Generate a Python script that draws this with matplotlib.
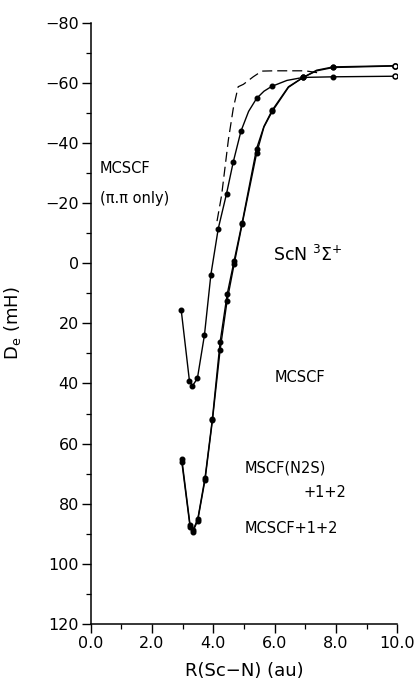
import matplotlib
matplotlib.use("Agg")
import matplotlib.pyplot as plt
from matplotlib.ticker import MultipleLocator, FuncFormatter

# ---- data ----
# MCSCF (pi,pi only) - dashed, no markers
pipi_r = [4.12, 4.27, 4.49, 4.65, 4.81, 4.98, 5.30, 5.58, 6.00, 7.00, 7.50]
pipi_de = [-14.0, -22.6, -41.0, -51.5, -58.7, -59.5, -62.0, -63.9, -64.0, -64.0, -63.2]

# MCSCF (shallow well): computed points (markers)
mcscf_r = [2.95, 3.22, 3.32, 3.48, 3.71, 3.92, 4.16, 4.43, 4.65, 4.90, 5.41, 5.90, 6.93, 7.91, 9.93]
mcscf_de = [15.4, 39.1, 40.8, 38.3, 23.9, 3.8, -11.5, -23.1, -33.7, -43.9, -54.8, -58.8, -61.8, -62.0, -62.2]
# extra points read along the drawn MCSCF curve between markers
mcscf_curve_r = [5.15, 5.65, 6.40]
mcscf_curve_de = [-50.5, -57.2, -60.8]

# MCSCF+1+2
ci_r = [2.97, 3.24, 3.33, 3.49, 3.73, 3.97, 4.22, 4.45, 4.68, 4.94, 5.41, 5.92, 6.93, 7.91, 9.93]
ci_de = [65.0, 87.0, 88.9, 85.2, 71.3, 51.7, 26.3, 10.4, -0.9, -13.5, -38.1, -50.9, -61.8, -65.3, -65.7]
# MSCF(N2S)+1+2
n2s_r = [2.97, 3.24, 3.33, 3.49, 3.73, 3.97, 4.22, 4.45, 4.68, 4.94, 5.41, 5.92, 6.93, 7.91, 9.93]
n2s_de = [66.0, 87.6, 89.3, 85.6, 72.0, 52.3, 28.9, 12.4, 0.2, -13.0, -36.5, -50.5, -61.8, -65.1, -65.6]
# extra points read along the drawn +1+2 curves between markers
ci_curve_r = [5.65, 6.45, 7.37]
ci_curve_de = [-45.5, -58.7, -64.2]

x_ticks = [0.0, 2.0, 4.0, 6.0, 8.0, 10.0]
y_ticks = [-80, -60, -40, -20, 0, 20, 40, 60, 80, 100, 120]


def merged(r, d, er, ed):
    pts = sorted(list(zip(r, d)) + list(zip(er, ed)))
    return [p[0] for p in pts], [p[1] for p in pts]


W, H = 416, 683
fig = plt.figure(figsize=(W / 100, H / 100), dpi=100)
ax = fig.add_axes([90.7 / W, 1 - 624 / H, (397.3 - 90.7) / W, (624 - 22.7) / H])

ax.plot(pipi_r, pipi_de, color="black", lw=0.9, dashes=(8, 4))
series = [
    (mcscf_r, mcscf_de, mcscf_curve_r, mcscf_curve_de),
    (ci_r, ci_de, ci_curve_r, ci_curve_de),
    (n2s_r, n2s_de, ci_curve_r, [v + 0.2 for v in ci_curve_de]),
]
for r, d, er, ed in series:
    lr, ld = merged(r, d, er, ed)
    ax.plot(lr, ld, color="black", lw=1.0)
    ax.plot(r[:-1], d[:-1], ls="none", marker="o", ms=3.3, color="black")
    ax.plot(r[-1:], d[-1:], ls="none", marker="o", ms=3.6, mfc="white", mec="black", mew=1.1)

ax.set_xlim(0, 10)
ax.set_ylim(120, -80)
ax.set_xticks(x_ticks)
ax.set_yticks(y_ticks)
ax.xaxis.set_minor_locator(MultipleLocator(1.0))
ax.yaxis.set_minor_locator(MultipleLocator(10))
ax.xaxis.set_major_formatter(FuncFormatter(lambda v, p: f"{v:.1f}"))
ax.yaxis.set_major_formatter(FuncFormatter(lambda v, p: f"{int(v)}".replace("-", "\u2212")))
for s in ["top", "right"]:
    ax.spines[s].set_visible(False)
for s in ["left", "bottom"]:
    ax.spines[s].set_linewidth(1.1)
ax.tick_params(which="major", direction="out", length=6.5, width=1.0, labelsize=11.5, pad=2)
ax.tick_params(which="minor", direction="out", length=3.5, width=0.9)

ax.set_xlabel("R(Sc\u2212N) (au)", fontsize=13, labelpad=8)
ax.set_ylabel(r"D$_{\rm e}$ (mH)", fontsize=13, labelpad=16)

ax.text(0.30, -31.6, "MCSCF", fontsize=10.5, va="center", ha="left")
ax.text(0.30, -21.6, "(\u03c0.\u03c0 only)", fontsize=10.5, va="center", ha="left")
ax.text(5.95, -2.6, r"ScN $^{3}\Sigma^{+}$", fontsize=12.5, va="center", ha="left")
ax.text(6.01, 38.1, "MCSCF", fontsize=10.5, va="center", ha="left")
ax.text(5.03, 68.1, "MSCF(N2S)", fontsize=10.5, va="center", ha="left")
ax.text(6.93, 76.4, "+1+2", fontsize=10.5, va="center", ha="left")
ax.text(5.03, 88.1, "MCSCF+1+2", fontsize=10.5, va="center", ha="left")

fig.savefig("out.png", dpi=100)
